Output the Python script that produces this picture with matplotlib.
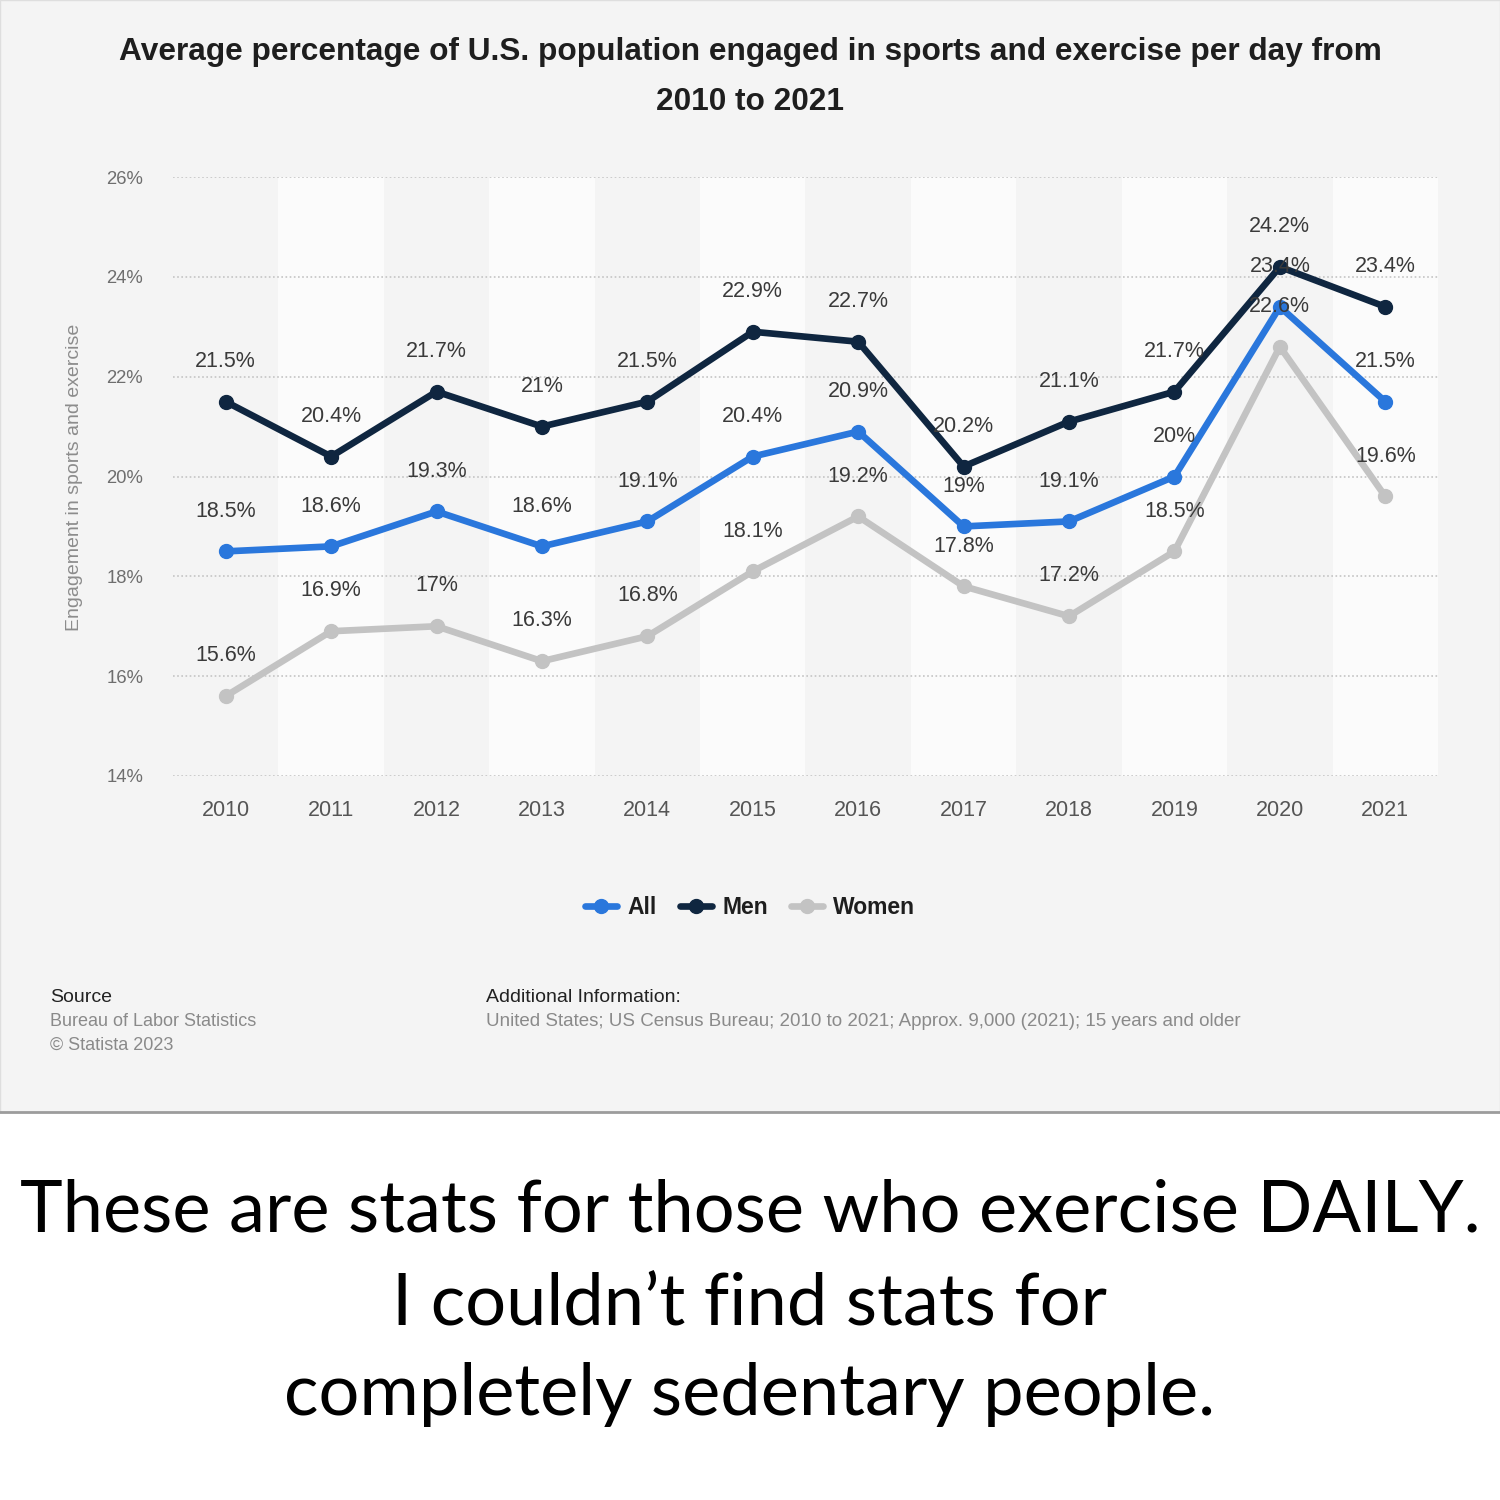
import matplotlib
matplotlib.use("Agg")
import matplotlib.pyplot as plt
from matplotlib.patches import Rectangle
from matplotlib.lines import Line2D

years = [2010, 2011, 2012, 2013, 2014, 2015, 2016, 2017, 2018, 2019, 2020, 2021]
all_vals = [18.5, 18.6, 19.3, 18.6, 19.1, 20.4, 20.9, 19.0, 19.1, 20.0, 23.4, 21.5]
men_vals = [21.5, 20.4, 21.7, 21.0, 21.5, 22.9, 22.7, 20.2, 21.1, 21.7, 24.2, 23.4]
women_vals = [15.6, 16.9, 17.0, 16.3, 16.8, 18.1, 19.2, 17.8, 17.2, 18.5, 22.6, 19.6]
y_ticks = [14, 16, 18, 20, 22, 24, 26]
series_names = ["All", "Men", "Women"]

title = "Average percentage of U.S. population engaged in sports and exercise per day from\n2010 to 2021"
y_label = "Engagement in sports and exercise"
caption_lines = ["These are stats for those who exercise DAILY.",
                 "I couldn\u2019t find stats for",
                 "completely sedentary people."]

plt.rcParams['font.family'] = ['Liberation Sans', 'DejaVu Sans']

W = H = 1500
fig = plt.figure(figsize=(15, 15), dpi=100)
fig.patch.set_facecolor('white')


def fx(px):
    return px / W


def fy(py):
    return 1 - py / H


# upper panel
panel_bottom = 1112
fig.patches.append(Rectangle((0, fy(panel_bottom)), 1, 1 - fy(panel_bottom),
                             transform=fig.transFigure, facecolor='#f4f4f4',
                             edgecolor='#dedede', linewidth=1.0, zorder=-10))
fig.add_artist(Line2D([0, 1], [fy(panel_bottom), fy(panel_bottom)],
                      transform=fig.transFigure, color='#9c9c9c', linewidth=2.0,
                      zorder=-5))

ax_left, ax_right, ax_top, ax_bottom = 173, 1438, 177, 776
ax = fig.add_axes([fx(ax_left), fy(ax_bottom), fx(ax_right - ax_left),
                   (ax_bottom - ax_top) / H])
ax.set_zorder(1)
ax.set_facecolor('none')
ax.set_xlim(years[0] - 0.5, years[-1] + 0.5)
ax.set_ylim(y_ticks[0], y_ticks[-1])

for i, yr in enumerate(years):
    if i % 2 == 1:
        ax.axvspan(yr - 0.5, yr + 0.5, color='#fbfbfb', zorder=0, lw=0)

ax.yaxis.grid(True, linestyle=(0, (1, 1.5)), color='#c4c4c4', linewidth=1.2, zorder=1)
ax.set_axisbelow(True)
for s in ax.spines.values():
    s.set_visible(False)

colors = {"All": '#2a77dc', "Men": '#0f2640', "Women": '#c3c3c3'}
data = {"All": all_vals, "Men": men_vals, "Women": women_vals}
handles = {}
for name in ["Women", "All", "Men"]:
    ln, = ax.plot(years, data[name], color=colors[name], linewidth=4.8,
                  marker='o', markersize=10, zorder=3, label=name,
                  solid_capstyle='round', solid_joinstyle='round')
    handles[name] = ln

for name in ["Women", "All", "Men"]:
    for x, v in zip(years, data[name]):
        ax.annotate(f"{v:g}%", (x, v), xytext=(0, 29), textcoords='offset points',
                    ha='center', va='center', fontsize=15.5, color='#3a3a3a', zorder=5)

ax.set_xticks(years)
ax.set_xticklabels([str(y) for y in years], fontsize=15.5, color='#555555')
ax.set_yticks(y_ticks)
ax.set_yticklabels([f"{t}%" for t in y_ticks], fontsize=13.3, color='#6e6e6e')
ax.tick_params(axis='x', length=0, pad=17)
ax.tick_params(axis='y', length=0, pad=21.5)

fig.text(fx(75), fy(477), y_label, rotation=90, ha='center', va='center',
         fontsize=14, color='#8c8c8c')

fig.text(0.5, fy(77), title, ha='center', va='center', fontsize=22.8, fontweight='bold',
         color='#1e1e1e', linespacing=1.85)

leg = fig.legend([handles[n] for n in series_names], series_names, loc='center',
                 bbox_to_anchor=(fx(750), fy(908)), ncol=3, frameon=False,
                 prop={'weight': 'bold', 'size': 16.5}, handlelength=1.4,
                 handletextpad=0.45, columnspacing=1.0)
for t in leg.get_texts():
    t.set_color('#1e1e1e')

fig.text(fx(50), fy(998), "Source", ha='left', va='center', fontsize=14, color='#222222')
fig.text(fx(50), fy(1022), "Bureau of Labor Statistics", ha='left', va='center',
         fontsize=13, color='#8a8a8a')
fig.text(fx(50), fy(1045), "\u00a9 Statista 2023", ha='left', va='center',
         fontsize=13, color='#8a8a8a')
fig.text(fx(486), fy(998), "Additional Information:", ha='left', va='center',
         fontsize=14, color='#222222')
fig.text(fx(486), fy(1022),
         "United States; US Census Bureau; 2010 to 2021; Approx. 9,000 (2021); 15 years and older",
         ha='left', va='center', fontsize=13.5, color='#8a8a8a')

baselines = [1232, 1325, 1415]
for line, b in zip(caption_lines, baselines):
    fig.text(0.5, fy(b), line, ha='center', va='baseline', fontsize=52,
             color='black', family=['Lato', 'DejaVu Sans'])

fig.savefig("out.png", dpi=100, facecolor=fig.get_facecolor())
